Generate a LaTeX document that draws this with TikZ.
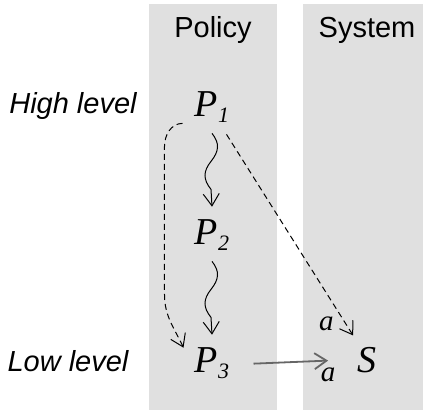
\documentclass[tikz,border=0pt]{standalone}
\usepackage{fontspec}
\setmainfont{Liberation Serif}
\setsansfont{Liberation Sans}
\usetikzlibrary{arrows.meta}

\newcommand{\idx}[1]{\raisebox{-3pt}{\fontsize{11}{12}\selectfont #1}}

\tikzset{
    colbg/.style={fill=black!12},
    head/.style={font=\sffamily\fontsize{14.5}{16}\selectfont, anchor=base},
    lvl/.style={font=\sffamily\itshape\fontsize{14.5}{16}\selectfont, anchor=base},
    var/.style={font=\itshape\fontsize{19}{21}\selectfont, inner sep=0pt, anchor=base},
    lbl/.style={font=\itshape\fontsize{14.5}{16}\selectfont, inner sep=0pt},
    tip/.style={-{Straight Barb[length=6pt, width=8pt]}},
    refine/.style={tip, line width=0.5pt},
    dep/.style={tip, line width=0.5pt, dash pattern=on 3pt off 2pt},
    act/.style={tip, line width=0.9pt, draw=black!60}
}

\begin{document}
\begin{tikzpicture}[x=0.5pt, y=0.5pt]
    \useasboundingbox (0,0) rectangle (423,410);
    % columns
    \fill[colbg] (149,0) rectangle (277,406);
    \fill[colbg] (303,0) rectangle (423,406);
    \node[head] (policy) at (213,372) {Policy};
    \node[head] (system) at (367,372) {System};

    \node[lvl] (high) at (73,296) {High level};
    \node[lvl] (low) at (68,38) {Low level};

    \node[var] (P1) at (212,293) {P\idx{1}};
    \node[var] (P2) at (212,165) {P\idx{2}};
    \node[var] (P3) at (212,37) {P\idx{3}};
    \node[var] (S) at (367,37) {S};

    % refinements (one wave each)
    \draw[refine] ([yshift=-5pt]P1.south) .. controls +(8,-10) and +(8,10) .. ++(-1,-28)
        .. controls +(-8,-10) and +(-8,10) .. ++(0,-28) -- ([yshift=6.5pt]P2.north);
    \draw[refine] ([yshift=-5pt]P2.south) .. controls +(8,-10) and +(8,10) .. ++(-1,-28)
        .. controls +(-8,-10) and +(-8,10) .. ++(0,-28) -- ([yshift=6.5pt]P3.north);

    % dependencies
    \draw[dep] ([xshift=-6pt]P1.south west) to[out=180, in=90] ++(-18,-23)
        -- ++(0,-148) to[out=-90, in=115] ([xshift=-5.5pt]P3.north west);
    \draw[dep] ([shift={(-1.5pt,-5.5pt)}]P1.south east) -- ([shift={(-2pt,6pt)}]S.north west)
        node[lbl, pos=1, left=9.5pt, yshift=6pt] (a1) {a};

    \draw[act] ([xshift=12pt]P3.east) -- ([xshift=-14.5pt]S.west)
        node[lbl, pos=1, below=3pt] (a2) {a};
\end{tikzpicture}
\end{document}
